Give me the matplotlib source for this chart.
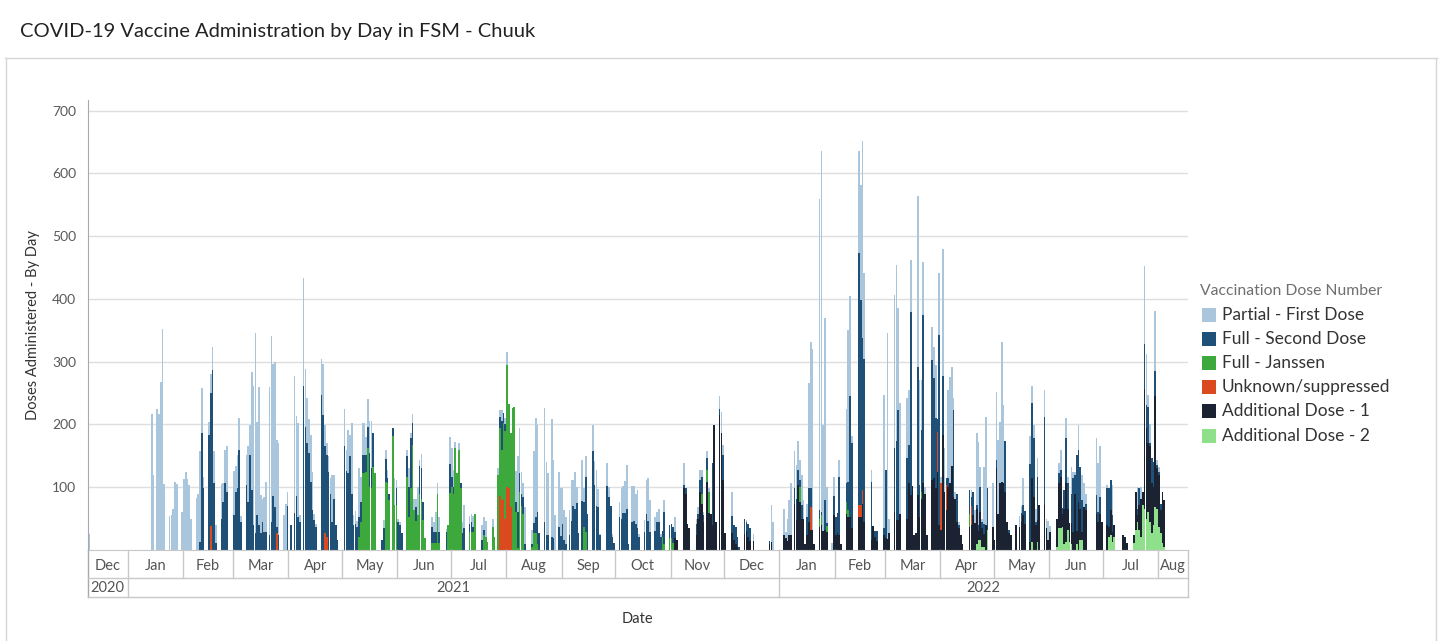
import matplotlib
matplotlib.use("Agg")
import matplotlib.pyplot as plt
import matplotlib.dates as mdates
import matplotlib.transforms as mtransforms
from matplotlib.patches import Rectangle
from matplotlib.lines import Line2D
import pandas as pd
import numpy as np

# ---------------- data (doses per day, by month -> {day: value}) ----------------
first_dose = {
    "2020-12": {10: 25},
    "2021-01": {14: 217, 15: 120, 17: 224, 18: 217, 19: 268, 20: 352, 21: 105, 24: 54, 25: 56, 26: 65, 27: 108, 28: 105, 31: 61},
    "2021-02": {1: 113, 2: 125, 3: 113, 4: 104, 5: 49, 8: 83, 9: 89, 10: 146, 11: 72, 12: 19, 15: 21, 16: 31, 17: 37, 18: 50, 19: 29, 22: 56, 23: 30, 24: 53, 25: 72},
    "2021-03": {1: 70, 2: 41, 3: 53, 4: 51, 5: 10, 8: 47, 9: 88, 10: 48, 11: 189, 12: 222, 13: 318, 14: 148, 15: 220, 16: 61, 17: 37, 18: 57, 19: 81, 21: 236, 22: 297, 23: 211, 24: 231, 25: 138, 26: 146, 29: 56, 30: 73, 31: 23},
    "2021-04": {4: 218, 5: 127, 6: 150, 7: 10, 9: 173, 10: 93, 11: 72, 12: 54, 13: 75, 14: 61, 15: 10, 16: 5, 19: 57, 20: 82, 21: 34, 22: 19, 23: 25, 24: 24, 25: 75, 26: 38},
    "2021-05": {2: 59, 3: 33, 4: 69, 5: 34, 6: 112, 7: 15, 8: 20, 9: 10, 10: 77, 11: 40, 12: 50, 13: 51, 14: 29, 15: 44, 16: 51, 17: 75, 24: 13, 25: 14, 26: 13, 30: 43, 31: 14},
    "2021-06": {1: 5, 2: 5, 6: 9, 7: 30, 8: 8, 9: 13, 10: 17, 11: 13, 12: 45, 13: 9, 14: 23, 20: 16, 21: 16, 22: 32, 23: 16, 24: 24, 28: 5, 30: 43},
    "2021-07": {1: 46, 2: 26, 3: 10, 5: 11, 7: 18, 8: 37, 11: 12, 12: 13, 13: 17, 18: 24, 19: 21, 20: 26, 24: 12, 27: 10, 28: 11, 29: 18, 31: 10},
    "2021-08": {1: 21, 6: 50, 7: 88, 8: 72, 9: 36, 10: 22, 11: 59, 15: 22, 16: 114, 17: 157, 18: 138, 22: 182, 23: 117, 24: 99, 26: 187, 27: 125, 28: 56, 30: 88, 31: 76},
    "2021-09": {1: 56, 2: 48, 3: 43, 5: 40, 6: 66, 7: 42, 8: 59, 9: 26, 12: 66, 13: 21, 14: 32, 18: 41, 19: 38, 20: 57, 21: 28, 22: 2, 26: 36, 27: 16, 29: 5},
    "2021-10": {3: 24, 4: 48, 5: 43, 6: 51, 7: 70, 10: 57, 11: 55, 12: 47, 13: 60, 14: 5, 17: 19, 18: 54, 19: 68, 20: 51, 23: 22, 24: 15, 25: 21, 26: 5, 28: 19},
    "2021-11": {3: 24, 8: 34, 15: 8, 16: 11, 17: 16, 18: 10, 19: 5, 21: 11, 22: 5, 28: 21, 29: 33, 30: 16},
    "2021-12": {5: 39, 13: 3, 17: 10, 27: 59, 28: 45},
    "2022-01": {3: 41, 4: 10, 5: 35, 6: 56, 7: 82, 9: 59, 10: 53, 11: 46, 12: 32, 13: 47, 14: 31, 16: 20, 17: 168, 18: 234, 19: 289, 23: 496, 24: 576, 25: 169, 26: 289, 27: 58, 30: 11, 31: 31},
    "2022-02": {3: 26, 7: 118, 8: 241, 9: 160, 10: 10, 14: 161, 15: 183, 16: 315, 17: 137, 21: 18, 28: 212},
    "2022-03": {2: 328, 3: 22, 6: 244, 7: 281, 8: 162, 9: 176, 13: 96, 14: 88, 15: 82, 19: 272, 20: 168, 21: 80, 22: 85, 23: 10, 27: 52, 28: 50, 29: 85, 31: 99},
    "2022-04": {1: 10, 2: 202, 3: 70, 5: 141, 6: 170, 7: 158, 8: 19, 9: 10, 11: 5, 18: 11, 20: 20, 21: 115, 22: 132, 23: 32, 24: 5, 25: 91, 26: 172, 30: 69},
    "2022-05": {2: 108, 3: 118, 4: 98, 5: 223, 6: 125, 15: 18, 16: 11, 17: 42, 21: 45, 22: 26, 23: 21, 24: 20, 25: 29, 29: 43, 30: 15, 31: 30},
    "2022-06": {1: 10, 6: 16, 7: 32, 10: 32, 11: 10, 13: 43, 14: 10, 15: 5, 17: 40, 19: 39, 20: 37, 21: 16, 27: 90, 28: 78, 29: 80},
    "2022-07": {3: 6, 6: 48, 20: 35, 22: 19, 24: 123, 25: 82, 26: 19, 27: 30, 30: 95, 31: 8},
    "2022-08": {1: 8},
}

second_dose = {
    "2021-02": {10: 12, 11: 186, 12: 98, 15: 183, 16: 212, 17: 287, 18: 107, 19: 11, 22: 49, 23: 77, 24: 106, 25: 93},
    "2021-03": {1: 56, 2: 93, 3: 98, 4: 159, 5: 44, 8: 104, 9: 77, 10: 151, 11: 95, 12: 40, 13: 27, 14: 56, 15: 40, 16: 27, 17: 45, 18: 28, 19: 28, 21: 24, 22: 44, 23: 86, 24: 69, 25: 10, 26: 24, 31: 70},
    "2021-04": {2: 40, 4: 59, 5: 86, 6: 53, 7: 45, 9: 261, 10: 196, 11: 170, 12: 154, 13: 109, 14: 64, 15: 48, 16: 37, 19: 247, 20: 215, 21: 138, 22: 131, 23: 125, 24: 90, 25: 45, 26: 82, 27: 40, 28: 16},
    "2021-05": {2: 165, 3: 126, 4: 122, 5: 149, 6: 90, 7: 40, 8: 42, 9: 37, 10: 32, 11: 32, 12: 30, 13: 28, 14: 26, 15: 34, 16: 54, 17: 32, 18: 54, 23: 16, 24: 35, 25: 36, 26: 8, 27: 10, 29: 13, 31: 26},
    "2021-06": {1: 45, 2: 40, 3: 27, 6: 33, 7: 48, 8: 80, 9: 36, 11: 22, 13: 44, 14: 48, 15: 29, 20: 26, 21: 18, 22: 18, 24: 18, 28: 29, 30: 46},
    "2021-07": {1: 16, 2: 11, 6: 9, 7: 27, 8: 35, 11: 14, 12: 16, 13: 9, 18: 16, 19: 8, 28: 18, 29: 46, 30: 16, 31: 10},
    "2021-08": {6: 15, 7: 58, 8: 29, 9: 19, 10: 27, 11: 10, 15: 5, 16: 16, 17: 26, 18: 51, 19: 27, 22: 45, 23: 24, 24: 24, 26: 21, 27: 19, 30: 37, 31: 22},
    "2021-09": {1: 42, 2: 16, 3: 10, 5: 24, 6: 46, 7: 70, 8: 66, 9: 75, 10: 27, 12: 78, 13: 40, 14: 89, 15: 57, 18: 158, 19: 104, 20: 70, 21: 69, 22: 24, 26: 102, 27: 85, 28: 70, 29: 21, 30: 11},
    "2021-10": {3: 53, 4: 50, 5: 59, 6: 59, 7: 65, 8: 10, 10: 45, 11: 47, 12: 42, 13: 35, 14: 20, 17: 29, 18: 58, 19: 46, 20: 29, 23: 31, 24: 45, 25: 45, 26: 20, 27: 10, 28: 51, 31: 21},
    "2021-11": {1: 23, 2: 26, 3: 10, 8: 6, 9: 8, 15: 18, 16: 8, 17: 18, 18: 27, 19: 10, 21: 19, 24: 98, 28: 9, 29: 1, 30: 40},
    "2021-12": {5: 27, 6: 24, 7: 26, 8: 16, 9: 5, 12: 25, 13: 15, 14: 22, 15: 21, 26: 5},
    "2022-01": {9: 24, 10: 34, 11: 23, 12: 10, 13: 22, 16: 29, 17: 53, 18: 29, 23: 15, 24: 5, 26: 48, 27: 5, 31: 30},
    "2022-02": {1: 29, 2: 32, 3: 93, 7: 29, 8: 46, 9: 192, 10: 136, 14: 403, 15: 327, 16: 242, 17: 260, 21: 93, 23: 10, 24: 15, 28: 11},
    "2022-03": {1: 108, 6: 101, 7: 125, 8: 175, 13: 96, 14: 60, 15: 292, 19: 204, 20: 50, 21: 99, 22: 267, 27: 191, 28: 160, 29: 112, 30: 20, 31: 303},
    "2022-04": {2: 94, 4: 10, 5: 13, 8: 138, 10: 45, 11: 5, 17: 39, 18: 15, 19: 37, 21: 5, 22: 10, 23: 40, 24: 10, 25: 17, 27: 66},
    "2022-05": {2: 13, 7: 80, 9: 5, 16: 14, 17: 16, 18: 20, 21: 124, 22: 121, 23: 93, 24: 5, 25: 69, 29: 140},
    "2022-06": {6: 16, 7: 10, 8: 10, 9: 30, 10: 72, 11: 40, 13: 47, 14: 85, 15: 30, 16: 121, 17: 82, 18: 67, 19: 51, 21: 10, 27: 30, 28: 15, 29: 27},
    "2022-07": {3: 58, 4: 61, 5: 48, 6: 28, 20: 10, 21: 26, 24: 73, 25: 37, 26: 58, 27: 5, 28: 40, 29: 40, 30: 41, 31: 5},
    "2022-08": {1: 5, 2: 10},
}

janssen = {
    "2021-05": {10: 21, 11: 45, 12: 122, 13: 123, 14: 125, 15: 162, 16: 100, 17: 98, 18: 133, 19: 122, 25: 109, 26: 106, 27: 80, 29: 181, 30: 72, 31: 72},
    "2021-06": {6: 117, 7: 53, 8: 98, 9: 167, 10: 64, 11: 47, 12: 56, 13: 90, 14: 82, 15: 48, 16: 19, 20: 11, 21: 11, 22: 11, 23: 90, 24: 11, 29: 40, 30: 91},
    "2021-07": {1: 101, 2: 90, 3: 162, 4: 122, 5: 160, 6: 98, 11: 28, 12: 29, 13: 28, 14: 57, 19: 24, 20: 21, 21: 13, 24: 37, 25: 21, 27: 120, 28: 108, 29: 79, 30: 120, 31: 140},
    "2021-08": {1: 194, 2: 135, 3: 117, 4: 226, 5: 228, 6: 61, 7: 3, 8: 93, 9: 70, 10: 58, 15: 5, 16: 27, 17: 27, 18: 10},
    "2021-09": {13: 37, 14: 28},
    "2021-10": {27: 21, 28: 10, 31: 19},
    "2021-11": {1: 19, 2: 11, 18: 16, 21: 18, 22: 34},
    "2022-01": {12: 24, 23: 12, 24: 15, 27: 10},
    "2022-02": {7: 19, 8: 10},
    "2022-03": {21: 10},
    "2022-04": {17: 20},
}

unknown = {
    "2021-02": {16: 38},
    "2021-03": {25: 27},
    "2021-04": {21: 27, 22: 20},
    "2021-07": {28: 86, 29: 80, 30: 82, 31: 50},
    "2021-08": {1: 101, 2: 98, 3: 69},
    "2022-01": {18: 37},
    "2022-02": {14: 18, 15: 18, 16: 21},
    "2022-03": {30: 63},
    "2022-04": {1: 74, 4: 40, 18: 30},
}

additional_1 = {
    "2021-11": {3: 19, 4: 16, 8: 98, 9: 90, 10: 42, 11: 35, 15: 24, 16: 50, 17: 93, 18: 74, 19: 45, 21: 109, 22: 59, 23: 58, 24: 40, 25: 199, 26: 45, 28: 215, 29: 186, 30: 111},
    "2021-12": {1: 27, 5: 27, 6: 16, 7: 10, 8: 5, 12: 25, 13: 30, 14: 20, 15: 14, 17: 15, 26: 10, 27: 13},
    "2022-01": {3: 24, 4: 19, 5: 15, 6: 24, 7: 24, 9: 74, 10: 48, 11: 104, 12: 77, 13: 50, 14: 49, 15: 10, 16: 24, 17: 45, 18: 32, 19: 32, 20: 10, 23: 37, 24: 40, 25: 30, 26: 32, 27: 28, 31: 56},
    "2022-02": {1: 24, 2: 27, 3: 24, 4: 10, 7: 58, 8: 53, 9: 53, 10: 35, 14: 53, 15: 53, 16: 74, 17: 45, 21: 16, 22: 38, 23: 20, 24: 15, 28: 24},
    "2022-03": {1: 19, 2: 17, 3: 27, 6: 61, 7: 48, 8: 48, 9: 58, 13: 50, 14: 107, 15: 88, 16: 102, 17: 24, 18: 27, 19: 88, 20: 53, 21: 82, 22: 107, 23: 90, 24: 24, 27: 112, 28: 114, 29: 98, 30: 125, 31: 40},
    "2022-04": {1: 32, 2: 183, 3: 93, 4: 64, 5: 101, 6: 106, 7: 134, 8: 85, 9: 82, 10: 45, 11: 35, 12: 24, 13: 10, 17: 37, 18: 40, 19: 56, 20: 43, 21: 56, 22: 14, 23: 45, 24: 30, 25: 20, 26: 40, 30: 37},
    "2022-05": {1: 16, 2: 130, 3: 58, 4: 106, 5: 109, 6: 106, 7: 93, 8: 45, 9: 27, 10: 24, 13: 40, 15: 36, 16: 45, 17: 56, 18: 42, 21: 13, 22: 101, 23: 85, 24: 40, 25: 35, 26: 72, 29: 72, 30: 35, 31: 16},
    "2022-06": {1: 29, 5: 45, 6: 71, 7: 82, 8: 20, 9: 56, 10: 93, 11: 34, 12: 30, 13: 33, 14: 29, 15: 90, 16: 20, 17: 77, 18: 50, 19: 13, 20: 69, 21: 64, 27: 58, 28: 45, 29: 58, 30: 45},
    "2022-07": {3: 40, 4: 16, 5: 40, 6: 15, 7: 19, 12: 24, 13: 21, 14: 11, 18: 13, 19: 61, 20: 10, 21: 40, 22: 61, 23: 20, 24: 190, 25: 144, 26: 109, 27: 120, 28: 79, 29: 60, 30: 176, 31: 64},
    "2022-08": {1: 83, 2: 37, 3: 82, 4: 75},
}

additional_2 = {
    "2022-04": {21: 10, 22: 16, 23: 16, 24: 5, 25: 5, 27: 32},
    "2022-05": {22: 13, 25: 13},
    "2022-06": {5: 5, 6: 35, 7: 35, 8: 37, 9: 10, 10: 13, 11: 32, 12: 13, 13: 10, 16: 10, 18: 16, 19: 16},
    "2022-07": {4: 21, 5: 24, 6: 13, 7: 21, 18: 11, 19: 32, 20: 45, 21: 32, 22: 21, 23: 72, 24: 66, 25: 50, 26: 61, 27: 45, 28: 27, 29: 40, 30: 69, 31: 66},
    "2022-08": {1: 37, 2: 27, 3: 11, 4: 5},
}

legend_labels = ["Partial - First Dose", "Full - Second Dose", "Full - Janssen",
                 "Unknown/suppressed", "Additional Dose - 1", "Additional Dose - 2"]
colors = ["#aac6dd", "#1f5078", "#3da83b", "#db4a1f", "#1b2332", "#8fe08b"]
y_ticks = [100, 200, 300, 400, 500, 600, 700]
month_names = ["Jan", "Feb", "Mar", "Apr", "May", "Jun", "Jul", "Aug", "Sep", "Oct", "Nov", "Dec"]

# ---------------- figure ----------------
W, H = 1439, 641
fig = plt.figure(figsize=(W / 100, H / 100), dpi=100)
fig.patch.set_facecolor("white")
FONT = "Lato"


def fx(x):
    return x / W


def fy(y):
    return 1 - y / H


ax = fig.add_axes([fx(87.5), fy(550), fx(1188) - fx(87.5), fy(100) - fy(550)])

dates = pd.date_range("2020-12-01", "2022-08-31")


def build(series):
    s = pd.Series(0.0, index=dates)
    for month, days in series.items():
        yy, mm = map(int, month.split("-"))
        for d, v in days.items():
            s[pd.Timestamp(yy, mm, d)] = v
    return s.values


xnum = mdates.date2num(dates) + 0.5
stack = [(additional_2, colors[5]), (additional_1, colors[4]), (unknown, colors[3]),
         (janssen, colors[2]), (second_dose, colors[1]), (first_dose, colors[0])]
bottom = np.zeros(len(dates))
for series, col in stack:
    vals = build(series)
    ax.bar(xnum, vals, width=0.95, bottom=bottom, color=col, linewidth=0, zorder=2)
    bottom = bottom + vals

x0 = mdates.date2num(pd.Timestamp("2020-12-09")) + 0.5
x1 = mdates.date2num(pd.Timestamp("2022-08-17")) + 0.8
ax.set_xlim(x0, x1)
ax.set_ylim(0, 717)
ax.set_yticks(y_ticks)
ax.set_yticklabels([str(v) for v in y_ticks], fontfamily=FONT)
ax.yaxis.grid(True, color="#dedede", linewidth=1, zorder=0)
ax.set_axisbelow(True)
ax.tick_params(axis="y", length=0, labelsize=10, labelcolor="#5a5a5a", pad=8)
ax.set_xticks([])
for sp in ["top", "right"]:
    ax.spines[sp].set_visible(False)
ax.spines["left"].set_color("#a8a8b0")
ax.spines["bottom"].set_color("#c8c8c8")

fig.text(fx(33), fy(325), "Doses Administered - By Day", rotation=90, ha="center",
         va="center", fontsize=10.5, color="#333333", fontfamily=FONT)

# ---------------- two-level date header ----------------
trans = mtransforms.blended_transform_factory(ax.transData, fig.transFigure)
line_col = "#c8c8c8"
months = pd.date_range("2020-12-01", "2022-09-01", freq="MS")
for i in range(len(months) - 1):
    a = mdates.date2num(months[i])
    b = mdates.date2num(months[i + 1])
    left, right = max(a, x0), min(b, x1)
    ax.text((left + right) / 2, fy(566), month_names[months[i].month - 1], transform=trans,
            ha="center", va="center", fontsize=10.5, color="#555555", fontfamily=FONT)
    if x0 < a < x1:
        is_year = months[i].month == 1
        fig.add_artist(Line2D([a, a], [fy(550), fy(597 if is_year else 578)],
                              transform=trans, color=line_col, linewidth=1))
for xe in (x0, x1):
    fig.add_artist(Line2D([xe, xe], [fy(550), fy(597)], transform=trans,
                          color="#a8a8b0" if xe == x0 else line_col, linewidth=1))
fig.add_artist(Line2D([x0, x1], [fy(578), fy(578)], transform=trans, color=line_col, linewidth=1))
fig.add_artist(Line2D([x0, x1], [fy(597), fy(597)], transform=trans, color=line_col, linewidth=1))

y2021 = mdates.date2num(pd.Timestamp("2021-01-01"))
y2022 = mdates.date2num(pd.Timestamp("2022-01-01"))
for lbl, a, b in (("2020", x0, y2021), ("2021", y2021, y2022), ("2022", y2022, x1)):
    ax.text((a + b) / 2, fy(588), lbl, transform=trans, ha="center", va="center",
            fontsize=10.5, color="#555555", fontfamily=FONT)

fig.text(fx(637), fy(619), "Date", ha="center", va="center", fontsize=10.5,
         color="#333333", fontfamily=FONT)

# ---------------- title & frame ----------------
fig.text(fx(20), fy(32), "COVID-19 Vaccine Administration by Day in FSM - Chuuk",
         ha="left", va="center", fontsize=14.5, color="#222222", fontfamily=FONT)
fig.add_artist(Line2D([fx(5), fx(1437)], [fy(58), fy(58)], color="#d6d6d6", linewidth=1))
fig.add_artist(Line2D([fx(6), fx(6)], [fy(58), fy(641)], color="#d6d6d6", linewidth=1))
fig.add_artist(Line2D([fx(1436), fx(1436)], [fy(58), fy(641)], color="#d6d6d6", linewidth=1))

# ---------------- legend ----------------
fig.text(fx(1200), fy(291), "Vaccination Dose Number", ha="left", va="center",
         fontsize=11.3, color="#6f6f6f", fontfamily=FONT)
row_y = [315, 339, 363, 387, 411, 436]
for lbl, col, yy in zip(legend_labels, colors, row_y):
    fig.add_artist(Rectangle((fx(1202), fy(yy + 7)), fx(14), 14 / H, facecolor=col,
                             edgecolor="none", transform=fig.transFigure))
    fig.text(fx(1222), fy(yy), lbl, ha="left", va="center", fontsize=12.5,
             color="#333333", fontfamily=FONT)

fig.savefig("out.png", dpi=100, facecolor="white")
